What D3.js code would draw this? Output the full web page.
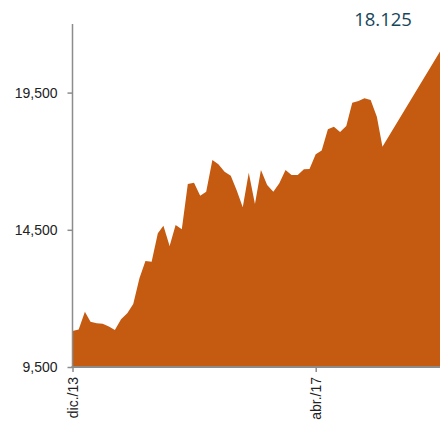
<!DOCTYPE html>
<html lang="es">
  <head>
    <meta charset="UTF-8" />
    <title>Área mensual</title>
    <script src="https://d3js.org/d3.v7.min.js"></script>
    <style>
      body { margin: 0; background: #fff; }
      svg { display: block; font-family: 'Open Sans', sans-serif; }
    </style>
  </head>
  <body>
    <svg width="440" height="426"></svg>

    <script>
      // Monthly series, dic./13 onwards (last point is the projected one, off the right edge)
      const months = [
        '2013-12', '2014-01', '2014-02', '2014-03', '2014-04', '2014-05', '2014-06', '2014-07',
        '2014-08', '2014-09', '2014-10', '2014-11', '2014-12', '2015-01', '2015-02', '2015-03',
        '2015-04', '2015-05', '2015-06', '2015-07', '2015-08', '2015-09', '2015-10', '2015-11',
        '2015-12', '2016-01', '2016-02', '2016-03', '2016-04', '2016-05', '2016-06', '2016-07',
        '2016-08', '2016-09', '2016-10', '2016-11', '2016-12', '2017-01', '2017-02', '2017-03',
        '2017-04', '2017-05', '2017-06', '2017-07', '2017-08', '2017-09', '2017-10', '2017-11',
        '2017-12', '2018-01', '2018-02', '2018-03', '2019-01',
      ];
      const values = [
        10810, 10870, 11515, 11150, 11090, 11080, 10975, 10850,
        11240, 11460, 11795, 12730, 13365, 13340, 14370, 14650,
        13910, 14675, 14520, 16170, 16215, 15740, 15890, 17045,
        16885, 16615, 16470, 15950, 15320, 16580, 15440, 16680,
        16130, 15890, 16195, 16680, 16495, 16495, 16705, 16715,
        17250, 17390, 18160, 18255, 18065, 18280, 19130, 19195,
        19290, 19230, 18620, 17530, 21210,
      ];
      const yTicks = [9500, 14500, 19500];
      const xTicks = ['2013-12', '2017-04'];
      const xTickLabels = ['dic./13', 'abr./17'];
      const headline = '18.125';

      const parse = d3.timeParse('%Y-%m');
      const data = months.map((m, i) => ({ date: parse(m), value: values[i] }));

      const svg = d3.select('svg'),
        width = +svg.attr('width'),
        height = +svg.attr('height');

      const x = d3
        .scaleTime()
        .domain([parse(xTicks[0]), parse(xTicks[1])])
        .range([72.5, 315.7]);

      const y = d3.scaleLinear().domain([9500, 22000]).range([367, 24]);

      // Area
      const area = d3
        .area()
        .x((d) => x(d.date))
        .y0(y(9500))
        .y1((d) => y(d.value));

      svg
        .append('path')
        .datum(data)
        .attr('fill', '#c55a11')
        .attr('d', area);

      // Y axis
      const yAxis = svg
        .append('g')
        .attr('transform', `translate(${x(parse(xTicks[0]))},0)`)
        .call(
          d3.axisLeft(y).tickValues(yTicks).tickFormat(d3.format(',')).tickSize(5).tickPadding(10),
        );
      yAxis.select('.domain').remove();
      yAxis.selectAll('line').attr('stroke', '#8c8c8c').attr('stroke-width', 1.5);
      yAxis.selectAll('text').attr('fill', '#222').style('font-size', '14px');
      yAxis
        .append('line')
        .attr('y1', y(22000))
        .attr('y2', y(9500))
        .attr('stroke', '#8c8c8c')
        .attr('stroke-width', 1.5);

      // X axis
      const xAxis = svg
        .append('g')
        .attr('transform', `translate(0,${y(9500)})`)
        .call(
          d3
            .axisBottom(x)
            .tickValues(xTicks.map(parse))
            .tickFormat((d, i) => xTickLabels[i])
            .tickSize(5)
            .tickPadding(8),
        );
      xAxis.select('.domain').remove();
      xAxis
        .append('line')
        .attr('x1', x(parse(xTicks[0])) - 1)
        .attr('x2', width)
        .attr('stroke', '#8c8c8c')
        .attr('stroke-width', 2);
      xAxis.selectAll('.tick line').attr('stroke', '#8c8c8c').attr('stroke-width', 1.5);
      xAxis
        .selectAll('.tick text')
        .attr('fill', '#222')
        .style('font-size', '14px')
        .attr('text-anchor', 'end')
        .attr('transform', 'rotate(-90)')
        .attr('x', -10)
        .attr('y', 0)
        .attr('dy', '0.35em');

      // Headline value
      svg
        .append('text')
        .attr('x', 383)
        .attr('y', 26)
        .attr('text-anchor', 'middle')
        .attr('fill', '#17465a')
        .style('font-size', '18.5px')
        .text(headline);
    </script>
  </body>
</html>
